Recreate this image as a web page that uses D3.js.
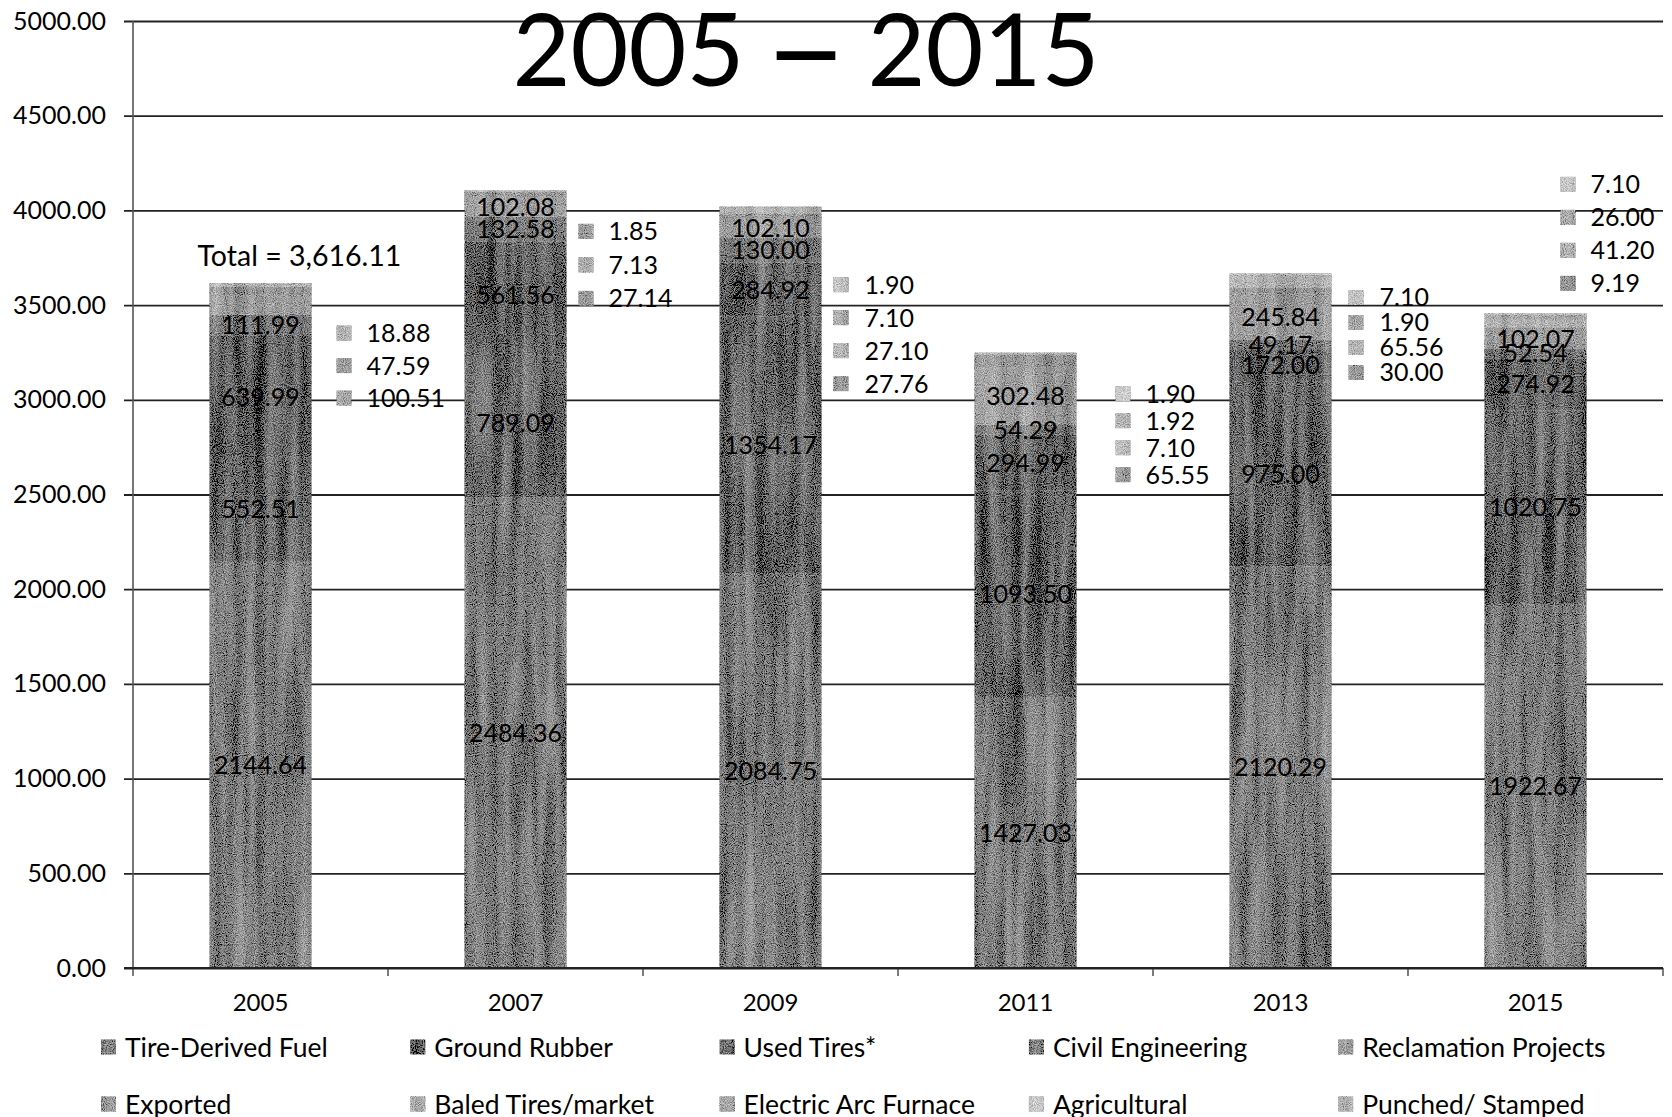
<!DOCTYPE html>
<html>
<head>
<meta charset="utf-8">
<script src="https://cdnjs.cloudflare.com/ajax/libs/d3/7.8.5/d3.min.js"></script>
<style>
  html, body { margin: 0; padding: 0; background: #fff; }
  svg { display: block; }
  text { font-family: Lato, "Open Sans", "Noto Sans", sans-serif; fill: #000; }
</style>
</head>
<body>
<svg id="chart" width="1672" height="1117"></svg>
<script>
// ---------------- data ----------------
const years = ["2005", "2007", "2009", "2011", "2013", "2015"];
const seriesNames = ["Tire-Derived Fuel", "Ground Rubber", "Used Tires*", "Civil Engineering",
  "Reclamation Projects", "Exported", "Baled Tires/market", "Electric Arc Furnace",
  "Agricultural", "Punched/ Stamped"];
const tireDerivedFuel     = [2144.64, 2484.36, 2084.75, 1427.03, 2120.29, 1922.67];
const groundRubber        = [552.51, 789.09, 1354.17, 1093.50, 975.00, 1020.75];
const usedTires           = [639.99, 561.56, 284.92, 294.99, 172.00, 274.92];
const civilEngineering    = [111.99, 132.58, 130.00, 54.29, 49.17, 52.54];
const reclamationProjects = [100.51, 102.08, 102.10, 302.48, 245.84, 102.07];
const exported            = [47.59, 27.14, 27.76, 65.55, 30.00, 9.19];
const baledTires          = [18.88, 7.13, 27.10, 7.10, 65.56, 41.20];
const electricArcFurnace  = [0, 1.85, 7.10, 1.92, 1.90, 26.00];
const agricultural        = [0, 0, 1.90, 1.90, 7.10, 7.10];
const punchedStamped      = [0, 0, 0, 0, 0, 0];
const seriesValues = [tireDerivedFuel, groundRubber, usedTires, civilEngineering,
  reclamationProjects, exported, baledTires, electricArcFurnace, agricultural, punchedStamped];
const yTickValues = [0, 500, 1000, 1500, 2000, 2500, 3000, 3500, 4000, 4500, 5000];
const titleParts = ["2005 ", "\u2013", " 2015"];
const totalYear = "2005";

// ---------------- styles / layout ----------------
const seriesColors = ["#7e7e7e", "#6a6a6a", "#646464", "#787878", "#9c9c9c",
  "#969696", "#b2b2b2", "#a8a8a8", "#c4c4c4", "#acacac"];
// first series index whose labels are moved beside the bar, per year
const sideFrom = [4, 5, 5, 5, 5, 5];
// side label layout per year: marker dx, text dx (from bar right), first row dy from bar top, row gap
const sideLayout = [
  { mdx: 25, tdx: 55, dy0: 50, gap: 32.5 },
  { mdx: 12, tdx: 42, dy0: 41, gap: 33.5 },
  { mdx: 12, tdx: 43, dy0: 78, gap: 33 },
  { mdx: 39, tdx: 69, dy0: 41, gap: 27 },
  { mdx: 17, tdx: 48, dy0: 24, gap: 25 },
  { mdx: -26, tdx: 4, dy0: -129, gap: 33 }
];

const W = 1672, H = 1117;
const margin = { left: 133, right: 9, top: 21, bottom: 149 };
const plotB = H - margin.bottom;

const svg = d3.select("#chart");

// texture filter imitating the scanned look
const defs = svg.append("defs");
const f = defs.append("filter").attr("id", "scan")
  .attr("filterUnits", "userSpaceOnUse").attr("x", 0).attr("y", 0).attr("width", W).attr("height", H);
f.append("feTurbulence").attr("type", "fractalNoise").attr("baseFrequency", "1.1 0.9")
  .attr("numOctaves", 1).attr("seed", 5).attr("result", "n1");
f.append("feColorMatrix").attr("in", "n1").attr("type", "matrix")
  .attr("values", "1 0 0 0 0  1 0 0 0 0  1 0 0 0 0  0 0 0 0 1").attr("result", "g1");
f.append("feTurbulence").attr("type", "fractalNoise").attr("baseFrequency", "0.09 0.006")
  .attr("numOctaves", 2).attr("seed", 11).attr("result", "n2");
f.append("feColorMatrix").attr("in", "n2").attr("type", "matrix")
  .attr("values", "0 1 0 0 0  0 1 0 0 0  0 1 0 0 0  0 0 0 0 1").attr("result", "g2");
f.append("feComposite").attr("in", "SourceGraphic").attr("in2", "g1").attr("operator", "arithmetic")
  .attr("k1", 0).attr("k2", 1).attr("k3", 1.0).attr("k4", -0.5).attr("result", "c1");
f.append("feComposite").attr("in", "c1").attr("in2", "g2").attr("operator", "arithmetic")
  .attr("k1", 0).attr("k2", 1).attr("k3", 0.36).attr("k4", -0.18).attr("result", "c2");
f.append("feComposite").attr("in", "c2").attr("in2", "SourceGraphic").attr("operator", "in");

// ---------------- scales ----------------
const x = d3.scaleBand().domain(years).range([margin.left, W - margin.right])
  .paddingInner(0.6).paddingOuter(0.3);
const y = d3.scaleLinear().domain([0, 5000]).range([plotB, margin.top]);
const color = d3.scaleOrdinal().domain(seriesNames).range(seriesColors);

const table = years.map((yr, j) => {
  const row = { year: yr };
  seriesNames.forEach((s, i) => row[s] = seriesValues[i][j]);
  return row;
});
const stacked = d3.stack().keys(seriesNames)(table);
const totals = years.map((yr, j) => d3.sum(seriesValues, s => s[j]));

// ---------------- gridlines & axes ----------------
const yAxis = d3.axisLeft(y).tickValues(yTickValues).tickSize(-(W - margin.right - margin.left))
  .tickPadding(27).tickFormat(d3.format(".2f"));
const gy = svg.append("g").attr("transform", `translate(${margin.left},0)`).call(yAxis);
gy.select(".domain").remove();
gy.selectAll(".tick line").attr("stroke", "#222").attr("stroke-width", 1.8)
  .attr("x1", -9);
gy.selectAll(".tick text").attr("font-size", 25).attr("font-family", "Lato").attr("fill", "#000");

// y axis line
svg.append("line").attr("x1", margin.left).attr("x2", margin.left)
  .attr("y1", y(5000)).attr("y2", plotB).attr("stroke", "#555").attr("stroke-width", 1.6);

// category ticks at band boundaries
const step = x.step();
const boundaries = d3.range(years.length + 1).map(i => margin.left + i * step);
svg.append("g").selectAll("line").data(boundaries).join("line")
  .attr("x1", d => d).attr("x2", d => d).attr("y1", plotB).attr("y2", plotB + 8)
  .attr("stroke", "#444").attr("stroke-width", 1.4);

// x labels
const xAxis = d3.axisBottom(x).tickSize(0).tickPadding(26);
const gx = svg.append("g").attr("transform", `translate(0,${plotB})`).call(xAxis);
gx.select(".domain").remove();
gx.selectAll(".tick text").attr("font-size", 24).attr("font-family", "Lato").attr("fill", "#000");

// ---------------- bars ----------------
const barsG = svg.append("g").attr("filter", "url(#scan)");
barsG.selectAll("g.series").data(stacked).join("g").attr("class", "series")
  .attr("fill", d => color(d.key))
  .selectAll("rect").data(d => d).join("rect")
  .attr("x", d => x(d.data.year))
  .attr("width", x.bandwidth())
  .attr("y", d => y(d[1]))
  .attr("height", d => Math.max(0, y(d[0]) - y(d[1])));

// axis baseline over bars
svg.append("line").attr("x1", margin.left - 9).attr("x2", W - margin.right)
  .attr("y1", plotB).attr("y2", plotB).attr("stroke", "#222").attr("stroke-width", 1.8);

// ---------------- labels ----------------
const fmt = d3.format(".2f");
const labelsG = svg.append("g");
const sideMarkG = svg.append("g").attr("filter", "url(#scan)");
years.forEach((yr, j) => {
  const bx = x(yr), bw = x.bandwidth();
  const lay = sideLayout[j];
  const sideSeries = [];
  stacked.forEach((s, i) => {
    const v = seriesValues[i][j];
    if (!(v > 0)) return;
    if (i < sideFrom[j]) {
      const d = s[j];
      labelsG.append("text")
        .attr("x", bx + bw / 2).attr("y", (y(d[0]) + y(d[1])) / 2)
        .attr("dy", "0.36em").attr("text-anchor", "middle")
        .attr("font-size", 25).text(fmt(v));
    } else {
      sideSeries.push(i);
    }
  });
  sideSeries.reverse().forEach((i, k) => {
    const cy = y(totals[j]) + lay.dy0 + k * lay.gap;
    sideMarkG.append("rect")
      .attr("x", bx + bw + lay.mdx).attr("y", cy - 7.5)
      .attr("width", 15).attr("height", 15).attr("fill", seriesColors[i]);
    labelsG.append("text")
      .attr("x", bx + bw + lay.tdx).attr("y", cy).attr("dy", "0.36em")
      .attr("font-size", 25).text(fmt(seriesValues[i][j]));
  });
});

// total annotation
const tj = years.indexOf(totalYear);
labelsG.append("text")
  .attr("x", x(totalYear) - 12).attr("y", y(totals[tj]) - 27).attr("dy", "0.36em")
  .attr("font-size", 28.5).text("Total = " + d3.format(",.2f")(totals[tj]));

// title (dash stretched horizontally like the original)
const title = svg.append("text").attr("x", 806).attr("y", 86).attr("text-anchor", "middle")
  .attr("font-size", 100);
title.append("tspan").text(titleParts[0]);
title.append("tspan").attr("dx", -6).attr("textLength", 84).attr("lengthAdjust", "spacingAndGlyphs")
  .attr("font-weight", 700).text(titleParts[1]);
title.append("tspan").attr("dx", -6).text(titleParts[2]);

// ---------------- legend ----------------
const legendCols = 5, colStep = 309.3, legendX0 = 101;
const legendRowsY = [1047, 1104];
const legG = svg.append("g");
const legMarks = svg.append("g").attr("filter", "url(#scan)");
seriesNames.forEach((name, i) => {
  const col = i % legendCols, row = Math.floor(i / legendCols);
  const lx = legendX0 + col * colStep, ly = legendRowsY[row];
  legMarks.append("rect").attr("x", lx).attr("y", ly - 7.5).attr("width", 15).attr("height", 15)
    .attr("fill", seriesColors[i]);
  legG.append("text").attr("x", lx + 24).attr("y", ly).attr("dy", "0.36em")
    .attr("font-size", 26.5).text(name);
});
</script>
</body>
</html>
